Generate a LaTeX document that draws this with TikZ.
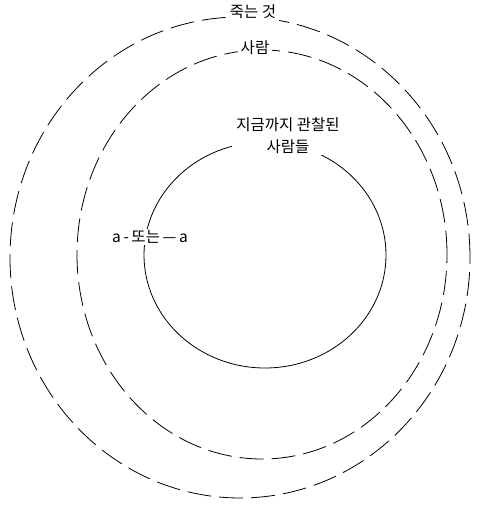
\documentclass[tikz,border=0pt]{standalone}
\usepackage{fontspec}
\setmainfont{Noto Sans CJK KR}
\begin{document}
\begin{tikzpicture}[x=1pt,y=1pt,
  ring/.style={line width=0.8pt,dash pattern=on 24pt off 8pt},
  solidring/.style={line width=0.8pt},
  lbl/.style={fill=white,inner xsep=3pt,inner ysep=2pt,font=\fontsize{15.5}{22}\selectfont}]
\useasboundingbox (0,0) rectangle (481,505);
\draw[ring] (240,247.5) ellipse [x radius=230, y radius=240.5];
\draw[ring] (262,250.5) ellipse [x radius=185, y radius=204.5];
\draw[solidring] (265,250) ellipse [x radius=121, y radius=113];
\node[lbl] (dying) at (253,493) {죽는 것};
\node[lbl] (people) at (255,457) {사람};
\node[lbl,align=center,inner xsep=4pt,inner ysep=1pt] (observed) at (288,369) {지금까지 관찰된\\사람들};
\node[lbl,inner ysep=1pt] (aora) at (150,268) {a\,-\,또는\,—\,a};
\end{tikzpicture}
\end{document}
